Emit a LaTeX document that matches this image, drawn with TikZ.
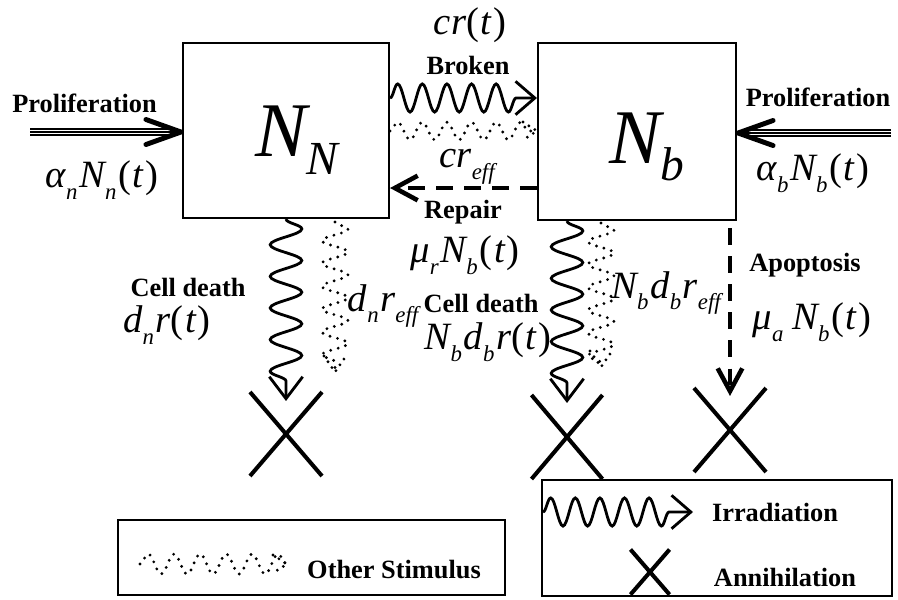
\documentclass[tikz,border=0pt]{standalone}
\usepackage{fontspec}
\setmainfont{Liberation Serif}
\usepackage{tikz}
\usetikzlibrary{positioning,arrows.meta,calc,decorations.pathmorphing,shapes.misc}
\newcommand{\lsub}[1]{\raisebox{-0.3em}{\fontsize{13}{14}\selectfont #1}\kern1pt}
\newcommand{\tpar}{{\upshape(}\kern1pt t\kern1pt{\upshape)}}
\tikzset{
  cellbox/.style    = {draw, line width=1.2pt, inner sep=0pt},
  lbl/.style        = {font=\bfseries\fontsize{15}{18}\selectfont, inner sep=0pt},
  eq/.style         = {font=\itshape\fontsize{22}{26}\selectfont, inner sep=0pt},
  bign/.style       = {font=\itshape\fontsize{44}{48}\selectfont, inner sep=0pt},
  kill/.style       = {draw, cross out, line width=2.3pt, inner sep=0pt},
  irr/.style        = {decorate, decoration={snake, amplitude=8pt, segment length=14pt, post length=8pt},
                       line width=1.6pt, -{Straight Barb[length=11pt, width=19pt]}},
  irrv/.style       = {irr, decoration={amplitude=9pt, segment length=18pt, post length=10pt},
                       -{Straight Barb[length=12.5pt, width=19pt]}},
  stim/.style       = {decorate, decoration={snake, amplitude=5pt, segment length=14pt},
                       line width=1.8pt, dash pattern=on 0pt off 4.4pt, line cap=round},
  stimv/.style      = {stim, decoration={amplitude=7.4pt, segment length=13pt}},
  stimhead/.style   = {line width=1.8pt, dash pattern=on 0pt off 4pt, line cap=round},
  fix/.style        = {line width=2.6pt, dash pattern=on 9.5pt off 6.5pt, -{Straight Barb[length=13pt, width=14pt]}},
  prolif/.style     = {line width=0.7pt, preaction={draw, line width=4pt}, preaction={draw=white, line width=2.6pt}},
  prolifhead/.style = {line width=2.8pt, line cap=round, line join=round},
}
\begin{document}
\begin{tikzpicture}[x=0.02cm, y=-0.02cm]
  \useasboundingbox (0,0) rectangle (898,599);
  % compartments
  \node[cellbox, minimum width=4.12cm, minimum height=3.5cm] (nn) at (286,130.5) {};
  \node[cellbox, minimum width=3.96cm, minimum height=3.54cm] (nb) at (637,131.5) {};
  \node[bign] (nnlab) at (297,140) {N\raisebox{-0.23em}{\fontsize{27}{30}\selectfont N}};
  \node[bign] (nblab) at (647,147) {N\raisebox{-0.23em}{\fontsize{27}{30}\selectfont b}};
  % annihilation marks
  \node[kill, minimum width=1.36cm, minimum height=1.6cm] (xn) at (286,434) {};
  \node[kill, minimum width=1.34cm, minimum height=1.6cm] (xb) at (567,437) {};
  \node[kill, minimum width=1.36cm, minimum height=1.6cm] (xa) at (730,430) {};
  % proliferation
  \coordinate (pn) at (30,132);
  \coordinate (pb) at (891,133);
  \draw[prolif] (pn) -- ($(nn.west |- pn)+(-8,0)$);
  \draw[prolifhead] ($(nn.west |- pn)+(-36,-12.5)$) -- ($(nn.west |- pn)+(-1,0)$) -- ($(nn.west |- pn)+(-36,12.5)$);
  \draw[prolif] (pb) -- ($(nb.east |- pb)+(8,0)$);
  \draw[prolifhead] ($(nb.east |- pb)+(36,-12.5)$) -- ($(nb.east |- pb)+(1,0)$) -- ($(nb.east |- pb)+(36,12.5)$);
  \node[lbl] (proln) at (84.5,103) {Proliferation};
  \node[eq] (alphan) at (102,180) {α\lsub{n}N\lsub{n}\tpar};
  \node[lbl] (prolb) at (818,97) {Proliferation};
  \node[eq] (alphab) at (813,173) {α\lsub{b}N\lsub{b}\tpar};
  % broken / repair
  \coordinate (sh) at (nb.west |- 0,131);
  \draw[irr] (nn.east |- 0,98) -- (nb.west |- 0,98);
  \draw[stim] (nn.east |- 0,131) -- (sh);
  \draw[stimhead] ($(sh)+(-14,-9)$) -- (sh) -- ($(sh)+(-14,9)$);
  \draw[fix] (nb.west |- 0,188) -- (nn.east |- 0,188);
  \node[eq] (crt) at (470,25) {cr\tpar};
  \node[lbl] (broken) at (468,65) {Broken};
  \node[eq] (creff) at (468,167) {cr\lsub{eff}};
  \node[lbl] (repair) at (463,212) {Repair};
  \node[eq] (mur) at (465,255) {μ\lsub{r}N\lsub{b}\tpar};
  % cell death of N_N
  \coordinate (sn) at (335,372);
  \draw[irrv] (nn.south -| xn.north) -- ($(xn.north)+(0,9)$);
  \draw[stimv] ($(nn.south -| sn)+(0,3)$) -- (sn);
  \draw[stimhead] ($(sn)+(-11,-16)$) -- (sn) -- ($(sn)+(11,-16)$);
  \node[lbl] (deathn) at (188,287) {Cell death};
  \node[eq] (dnr) at (167,325) {d\lsub{n}r\tpar};
  \node[eq] (dnreff) at (384,306) {d\lsub{n}r\lsub{eff}};
  % cell death of N_b
  \coordinate (sb) at (601,367);
  \draw[irrv] (nb.south -| xb.north) -- ($(xb.north)+(0,8)$);
  \draw[stimv] ($(nb.south -| sb)+(0,2)$) -- (sb);
  \draw[stimhead] ($(sb)+(-11,-16)$) -- (sb) -- ($(sb)+(11,-16)$);
  \node[lbl] (deathb) at (481,303) {Cell death};
  \node[eq] (ndr) at (488,342) {N\lsub{b}d\lsub{b}r\tpar};
  \node[eq] (ndreff) at (667,293) {N\lsub{b}d\lsub{b}r\lsub{eff}};
  % apoptosis
  \draw[fix] ($(nb.south -| xa.north)+(0,7)$) -- ($(xa.north)+(0,8)$);
  \node[lbl] (apop) at (805,265) {Apoptosis};
  \node[eq] (mua) at (812,322) {μ\lsub{a}\kern4pt N\lsub{b}\tpar};
  % legends
  \node[cellbox, minimum width=7.74cm, minimum height=1.5cm] (legl) at (311.5,557.5) {};
  \coordinate (ls1) at (140,564);
  \coordinate (ls2) at (287,564);
  \draw[stim, decoration={amplitude=5.7pt, segment length=14.8pt}] (ls1) -- (ls2);
  \draw[stimhead] ($(ls2)+(-14,-9)$) -- (ls2) -- ($(ls2)+(-14,9)$);
  \node[lbl] (stimlab) at (394,570) {Other Stimulus};
  \node[cellbox, minimum width=7cm, minimum height=2.32cm] (legr) at (717,538) {};
  \coordinate (li1) at (543,512);
  \coordinate (li2) at (693,512);
  \draw[irr, decoration={amplitude=8pt, segment length=14pt}] (li1) -- (li2);
  \node[lbl] (irrlab) at (775,512) {Irradiation};
  \node[kill, minimum width=0.7cm, minimum height=0.82cm] (xl) at (650,572) {};
  \node[lbl] (annlab) at (785,577) {Annihilation};
\end{tikzpicture}
\end{document}
